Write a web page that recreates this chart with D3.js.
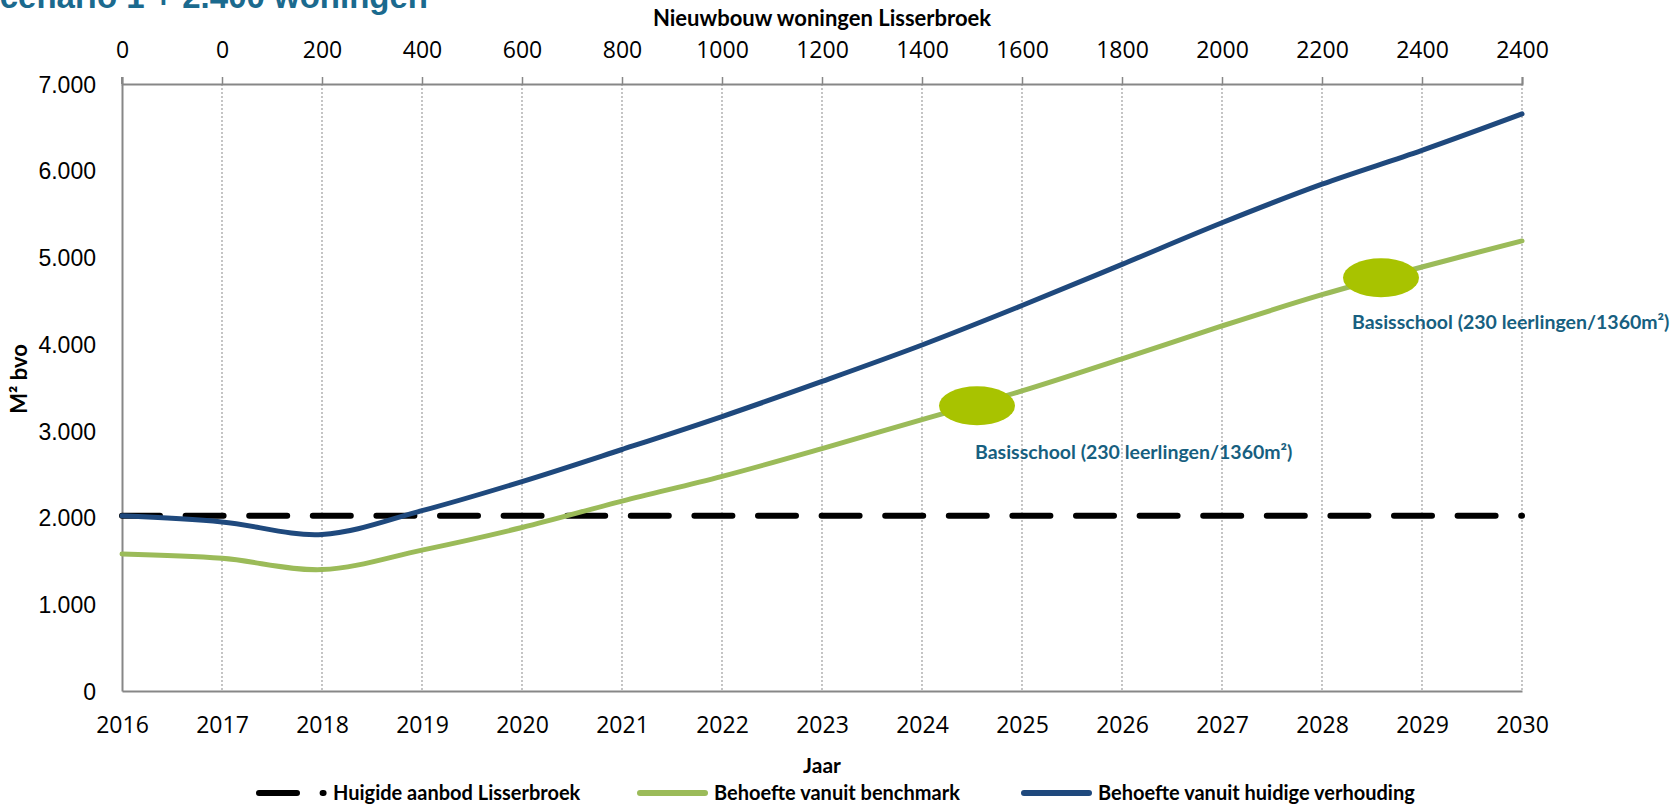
<!DOCTYPE html>
<html>
<head>
<meta charset="utf-8">
<script src="https://cdn.jsdelivr.net/npm/d3@7"></script>
<style>
  html, body { margin: 0; padding: 0; background: #ffffff; overflow: hidden; }
  svg { display: block; }
</style>
</head>
<body>
<svg id="chart" width="1675" height="804"></svg>
<script>
// Jaren (x-as onder) en nieuwbouw woningen (x-as boven)
const years = [2016, 2017, 2018, 2019, 2020, 2021, 2022, 2023, 2024, 2025, 2026, 2027, 2028, 2029, 2030];
const housingLabels = ["0", "0", "200", "400", "600", "800", "1000", "1200", "1400", "1600", "1800", "2000", "2200", "2400", "2400"];
const yTicks = [0, 1000, 2000, 3000, 4000, 5000, 6000, 7000];

// M² bvo per jaar
const huidigAanbod = [2020, 2020, 2020, 2020, 2020, 2020, 2020, 2020, 2020, 2020, 2020, 2020, 2020, 2020, 2020];
const benchmark    = [1580, 1530, 1400, 1625, 1885, 2190, 2475, 2795, 3130, 3460, 3830, 4210, 4570, 4890, 5190];
const verhouding   = [2020, 1950, 1805, 2080, 2415, 2785, 3165, 3570, 3990, 4445, 4920, 5400, 5845, 6235, 6655];

// Nieuwe basisscholen (op de benchmarklijn)
const schoolYears  = [2024.55, 2028.59];
const schoolValues = [3290, 4765];
const schoolLabels = ["Basisschool (230 leerlingen/1360m\u00B2)", "Basisschool (230 leerlingen/1360m\u00B2)"];

const legendLabels = ["Huigide aanbod Lisserbroek", "Behoefte vanuit benchmark", "Behoefte vanuit huidige verhouding"];

const svg = d3.select("#chart");
const fmt = d3.formatLocale({ decimal: ",", thousands: ".", grouping: [3], currency: ["\u20AC", ""] }).format(",");

const x = d3.scaleLinear().domain([2016, 2030]).range([122, 1522]);
const y = d3.scaleLinear().domain([0, 7000]).range([691, 84]);

const axisGray = "#878787";
const gridGray = "#a6a6a6";
const labelFont = "'Open Sans', sans-serif";

// Titel (bovenaan afgesneden)
svg.append("text")
  .attr("x", 428).attr("y", 8)
  .attr("text-anchor", "end")
  .attr("font-family", "'Liberation Sans', Arial, sans-serif")
  .attr("font-weight", "bold")
  .attr("font-size", 33)
  .attr("fill", "#1b6a8e")
  .text("Scenario 1 + 2.400 woningen");

// Verticale stippellijnen per jaar
svg.append("g").selectAll("line")
  .data(years.slice(1))
  .join("line")
  .attr("x1", d => x(d)).attr("x2", d => x(d))
  .attr("y1", y(7000)).attr("y2", y(0))
  .attr("stroke", gridGray)
  .attr("stroke-width", 1.3)
  .attr("stroke-dasharray", "2 2");

// X-as onder (jaren)
const xBottom = svg.append("g")
  .attr("transform", `translate(0,${y(0)})`)
  .call(d3.axisBottom(x).tickValues(years).tickFormat(d3.format("d")).tickSize(0).tickPadding(26));
xBottom.select(".domain").attr("stroke", axisGray).attr("stroke-width", 2);
xBottom.selectAll("text").attr("font-family", labelFont).attr("font-size", 23).attr("fill", "#000");

// X-as boven (nieuwbouw woningen)
const xTop = svg.append("g")
  .attr("transform", `translate(0,${y(7000)})`)
  .call(d3.axisTop(x).tickValues(years).tickFormat((d, i) => housingLabels[i]).tickSizeInner(7).tickSizeOuter(7).tickPadding(19));
xTop.select(".domain").attr("stroke", axisGray).attr("stroke-width", 2);
xTop.selectAll(".tick line").attr("stroke", axisGray).attr("stroke-width", 1.5);
xTop.selectAll("text").attr("font-family", labelFont).attr("font-size", 23).attr("fill", "#000");

// Y-as
const yAxis = svg.append("g")
  .attr("transform", `translate(${x(2016)},0)`)
  .call(d3.axisLeft(y).tickValues(yTicks).tickFormat(fmt).tickSize(0).tickPadding(26));
yAxis.select(".domain").attr("stroke", axisGray).attr("stroke-width", 2);
yAxis.selectAll("text").attr("font-family", "'Liberation Sans', Arial, sans-serif").attr("font-size", 23).attr("fill", "#000").attr("dy", "0.36em");
// verlengstuk van de y-as boven de bovenste lijn
svg.append("line")
  .attr("x1", x(2016)).attr("x2", x(2016))
  .attr("y1", y(7000) - 7).attr("y2", y(7000))
  .attr("stroke", axisGray).attr("stroke-width", 2);

// As-titels
svg.append("text")
  .attr("x", 822).attr("y", 26)
  .attr("text-anchor", "middle")
  .attr("font-family", "Lato, sans-serif").attr("font-weight", "bold").attr("font-size", 22)
  .text("Nieuwbouw woningen Lisserbroek");

svg.append("text")
  .attr("x", 822).attr("y", 773)
  .attr("text-anchor", "middle")
  .attr("font-family", "Lato, sans-serif").attr("font-weight", "bold").attr("font-size", 21)
  .text("Jaar");

svg.append("text")
  .attr("transform", "translate(27,379) rotate(-90)")
  .attr("text-anchor", "middle")
  .attr("font-family", "Lato, sans-serif").attr("font-weight", "bold").attr("font-size", 22)
  .text("M\u00B2 bvo");

// Lijnen
const series = [
  { values: huidigAanbod, color: "#000000", width: 6, dash: "38 25.6", curve: d3.curveLinear },
  { values: benchmark, color: "#9bbb59", width: 5, dash: null, curve: d3.curveCatmullRom.alpha(0.5) },
  { values: verhouding, color: "#1f497d", width: 5, dash: null, curve: d3.curveCatmullRom.alpha(0.5) }
];

series.forEach(s => {
  const line = d3.line()
    .x((d, i) => x(years[i]))
    .y(d => y(d))
    .curve(s.curve);
  svg.append("path")
    .datum(s.values)
    .attr("d", line)
    .attr("fill", "none")
    .attr("stroke", s.color)
    .attr("stroke-width", s.width)
    .attr("stroke-linecap", "round")
    .attr("stroke-linejoin", "round")
    .attr("stroke-dasharray", s.dash);
});

// Basisscholen
const schools = schoolYears.map((yr, i) => ({ yr, v: schoolValues[i], label: schoolLabels[i] }));
svg.append("g").selectAll("ellipse")
  .data(schools)
  .join("ellipse")
  .attr("cx", d => x(d.yr))
  .attr("cy", d => y(d.v))
  .attr("rx", 38).attr("ry", 19.5)
  .attr("fill", "#a8c300");

const labelOffsets = [{ dx: -2, dy: 53 }, { dx: -29, dy: 51 }];
svg.append("g").selectAll("text")
  .data(schools)
  .join("text")
  .attr("x", (d, i) => x(d.yr) + labelOffsets[i].dx)
  .attr("y", (d, i) => y(d.v) + labelOffsets[i].dy)
  .attr("font-family", "Lato, sans-serif").attr("font-weight", "bold").attr("font-size", 19.5)
  .attr("fill", "#175f80")
  .text(d => d.label);

// Legenda
const legendX = [256, 637, 1021];
const legend = svg.append("g").selectAll("g")
  .data(series)
  .join("g")
  .attr("transform", (d, i) => `translate(${legendX[i]},793)`);
legend.append("line")
  .attr("x1", 3).attr("x2", (d, i) => i === 0 ? 67.6 : 68)
  .attr("y1", 0).attr("y2", 0)
  .attr("stroke", d => d.color)
  .attr("stroke-width", 6)
  .attr("stroke-linecap", "round")
  .attr("stroke-dasharray", d => d.dash);
legend.append("text")
  .attr("x", 77).attr("y", 7)
  .attr("font-family", "Lato, sans-serif").attr("font-weight", "bold").attr("font-size", 20)
  .attr("fill", "#000")
  .text((d, i) => legendLabels[i]);
</script>
</body>
</html>
